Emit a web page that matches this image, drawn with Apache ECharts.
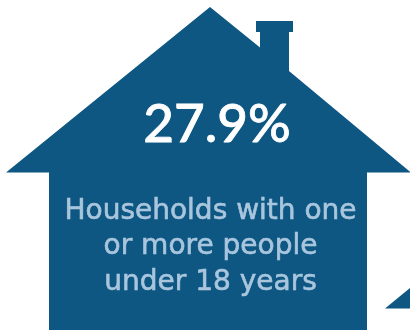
<!DOCTYPE html>
<html>
<head>
<meta charset="utf-8">
<style>html,body{margin:0;padding:0;background:#fff}#chart{width:410px;height:330px}</style>
<script src="https://cdn.jsdelivr.net/npm/echarts@6/dist/echarts.min.js"></script>
</head>
<body>
<div id="chart"></div>
<script>
// The headline share and its caption
const shareValue = 27.9;
const captionLines = ['Households with one', 'or more people', 'under 18 years'];

const houseColor = '#0d5782';
const captionColor = '#a9c6de';

// House silhouette with chimney, cropped by the bottom of the canvas
const houseOutline = [
  [210, 7], [260, 47.5], [260, 32], [256, 32], [256, 21], [293, 21], [293, 32], [289, 32],
  [289, 71], [411, 172.5], [367, 172.5], [367, 330], [49, 330], [49, 172.5], [6, 172.5]
];
// Corner of the neighbouring house at the lower right
const neighbourCorner = [[385, 308.5], [410, 308.5], [410, 288]];

const chart = echarts.init(document.getElementById('chart'), null, { renderer: 'canvas' });

const captionY = [212, 247, 283];

chart.setOption({
  animation: false,
  graphic: [
    { type: 'polygon', shape: { points: houseOutline }, style: { fill: houseColor } },
    { type: 'polygon', shape: { points: neighbourCorner }, style: { fill: houseColor } },
    {
      type: 'text', x: 217, y: 124.5,
      style: {
        text: shareValue.toFixed(1) + '%', fill: '#ffffff', align: 'center', verticalAlign: 'middle',
        font: '500 53px Lato', stroke: '#ffffff', lineWidth: 0.8
      }
    },
    ...captionLines.map((line, i) => ({
      type: 'text', x: 210.5, y: captionY[i],
      style: {
        text: line, fill: captionColor, align: 'center', verticalAlign: 'middle',
        font: '28px "DejaVu Sans"', stroke: captionColor, lineWidth: 0.6
      }
    }))
  ]
});
</script>
</body>
</html>
